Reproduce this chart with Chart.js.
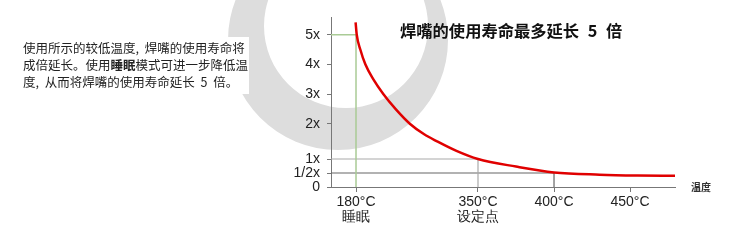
<!DOCTYPE html>
<html>
<head>
<meta charset="utf-8">
<script src="https://cdn.jsdelivr.net/npm/chart.js@4"></script>
<style>
  html, body { margin: 0; padding: 0; background: #fff; }
  #wrap { position: relative; width: 750px; height: 250px; overflow: hidden; }
  canvas { position: absolute; left: 0; top: 0; }
  #para {
    position: absolute; left: 20px; top: 37px; padding: 2px 1px 4px 3px;
    background: #fff; color: #222; white-space: nowrap; word-spacing: 3px;
    font-family: "Noto Sans CJK SC", sans-serif; font-size: 12.5px; line-height: 17px;
  }
  #para b { font-weight: bold; }
  #title {
    position: absolute; left: 400px; top: 21px; color: #111; white-space: nowrap; word-spacing: 5px;
    font-family: "Noto Sans CJK SC", sans-serif; font-size: 16.3px; font-weight: bold; line-height: 19px;
  }
</style>
</head>
<body>
<div id="wrap">
  <canvas id="c" width="750" height="250"></canvas>
  <div id="para">使用所示的较低温度, 焊嘴的使用寿命将<br>成倍延长。使用<b>睡眠</b>模式可进一步降低温<br>度, 从而将焊嘴的使用寿命延长 5 倍。</div>
  <div id="title">焊嘴的使用寿命最多延长 5 倍</div>
</div>
<script>
// ---- data ----
const curveTemps = [179.5, 181, 186, 193, 204, 218, 235, 255, 275, 293, 320, 350, 375, 400, 430, 455, 480];
const curveLife  = [5.42, 5.0, 4.5, 4.0, 3.5, 3.0, 2.5, 2.0, 1.7, 1.5, 1.23, 1.0, 0.73, 0.52, 0.44, 0.41, 0.40];

const refTemps = [180, 350, 400];
const refLife  = [5, 1, 0.5];

const xTicks = [180, 350, 400, 450];
const xTickText = [['180°C', '睡眠'], ['350°C', '设定点'], '400°C', '450°C'];

const yTicks = [0, 0.5, 1, 2, 3, 4, 5];
const yTickText = ['0', '1/2x', '1x', '2x', '3x', '4x', '5x'];

const xAxisName = '温度';

// ---- piecewise (broken) axis mapping: value -> fraction of axis length ----
const SCALE_BREAKS = {
  x: { v: [150, 180, 350, 400, 450, 480], f: [0, 0.0727, 0.4273, 0.6483, 0.8692, 1] },
  y: { v: [0, 1, 2, 5, 5.6], f: [0, 0.1647, 0.3724, 0.896, 1] }
};

function interp(val, a, b) {
  let i = 0;
  while (i < a.length - 2 && val > a[i + 1]) i++;
  const t = (val - a[i]) / (a[i + 1] - a[i]);
  return b[i] + t * (b[i + 1] - b[i]);
}

class PiecewiseScale extends Chart.LinearScale {
  getPixelForValue(value) {
    if (value === null || value === undefined || isNaN(value)) return NaN;
    const br = SCALE_BREAKS[this.id];
    return this.getPixelForDecimal(interp(value, br.v, br.f));
  }
  getValueForPixel(pixel) {
    const br = SCALE_BREAKS[this.id];
    return interp(this.getDecimalForPixel(pixel), br.f, br.v);
  }
}
PiecewiseScale.id = 'piecewise';
PiecewiseScale.defaults = Chart.LinearScale.defaults;
Chart.register(PiecewiseScale);

// ---- background ring + axis name ----
const decor = {
  id: 'decor',
  beforeDraw(chart) {
    const ctx = chart.ctx;
    ctx.save();
    ctx.fillStyle = '#dddddd';
    ctx.beginPath();
    ctx.arc(338, 40, 110, 0, Math.PI * 2);
    ctx.moveTo(346 + 82, 26);
    ctx.arc(346, 26, 82, 0, Math.PI * 2);
    ctx.fill('evenodd');
    ctx.restore();
  },
  afterDraw(chart) {
    const ctx = chart.ctx, a = chart.chartArea;
    ctx.save();
    ctx.fillStyle = '#333';
    ctx.font = 'bold 10px "Noto Sans CJK SC"';
    ctx.textBaseline = 'middle';
    ctx.fillText(xAxisName, a.right + 16, a.bottom + 0.5);
    ctx.restore();
  }
};

const refColors = ['#aacb96', '#aaaaaa', '#666666'];
const refWidths = [1.5, 1.2, 1.2];
const refSets = refTemps.map((t, i) => ({
  data: [{ x: 150, y: refLife[i] }, { x: t, y: refLife[i] }, { x: t, y: 0 }],
  borderColor: refColors[i],
  borderWidth: refWidths[i],
  pointRadius: 0,
  tension: 0,
  fill: false
}));

const curveSet = {
  data: curveTemps.map((t, i) => ({ x: t, y: curveLife[i] })),
  borderColor: '#e00000',
  borderWidth: 2.5,
  pointRadius: 0,
  cubicInterpolationMode: 'monotone',
  fill: false
};

const tickFont = { family: '"Liberation Sans", Arial, sans-serif', size: 14, lineHeight: 1.05 };

new Chart(document.getElementById('c'), {
  type: 'line',
  data: { datasets: [curveSet, ...refSets] },
  options: {
    responsive: false,
    animation: false,
    devicePixelRatio: 1,
    layout: { padding: { left: 0, top: 17, right: 75, bottom: 0 } },
    plugins: { legend: { display: false }, tooltip: { enabled: false } },
    scales: {
      x: {
        type: 'piecewise',
        min: 150, max: 480,
        afterFit(s) { s.height = 63; },
        afterBuildTicks(s) { s.ticks = xTicks.map(v => ({ value: v })); },
        ticks: {
          autoSkip: false, maxRotation: 0, padding: 3, color: '#222', font: tickFont,
          callback: (v) => xTickText[xTicks.indexOf(v)]
        },
        grid: { drawOnChartArea: false, drawTicks: true, tickLength: 5, color: '#777' },
        border: { color: '#777', width: 1 }
      },
      y: {
        type: 'piecewise',
        min: 0, max: 5.6,
        afterFit(s) { s.width = 331; },
        afterBuildTicks(s) { s.ticks = yTicks.map(v => ({ value: v })); },
        ticks: {
          autoSkip: false, padding: 7, color: '#222', font: { family: '"Liberation Sans", Arial, sans-serif', size: 14 },
          callback: (v) => yTickText[yTicks.indexOf(v)]
        },
        grid: { drawOnChartArea: false, drawTicks: true, tickLength: 4, color: '#777' },
        border: { color: '#777', width: 1 }
      }
    }
  },
  plugins: [decor]
});
</script>
</body>
</html>
